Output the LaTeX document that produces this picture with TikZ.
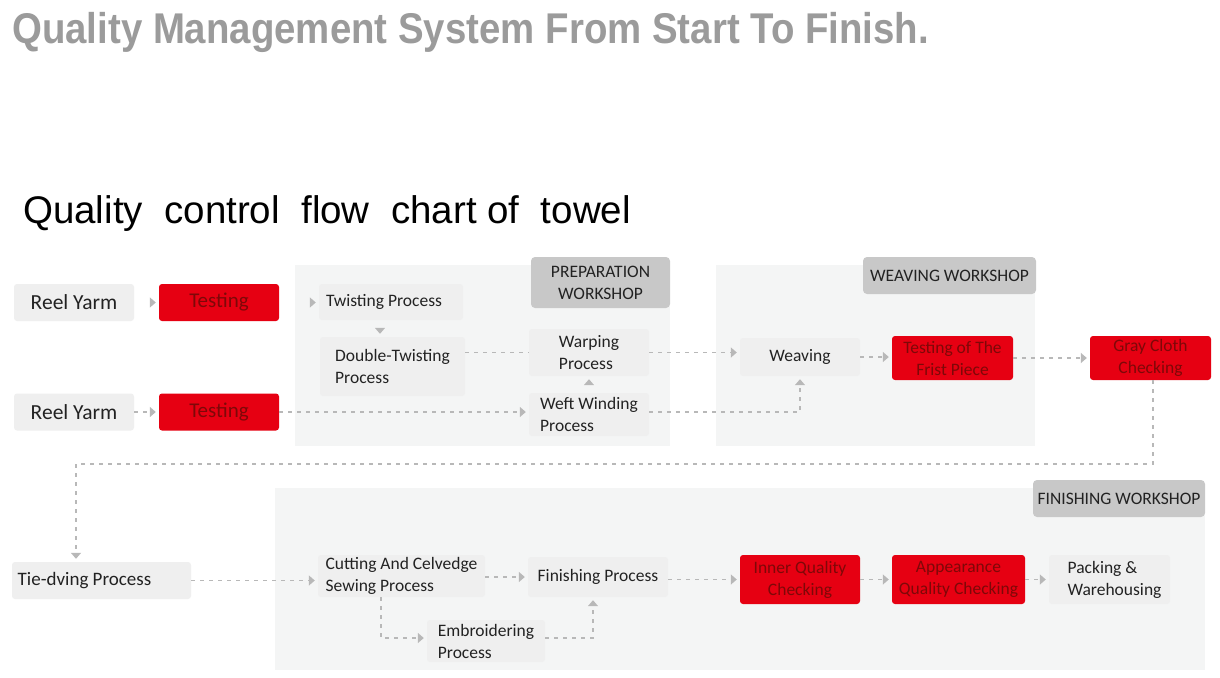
\documentclass[tikz,border=0pt]{standalone}
\usepackage{fontspec}
\setmainfont{Carlito}
\newfontfamily\titlefont{Liberation Sans}
\usetikzlibrary{arrows.meta,calc}
\definecolor{redbox}{HTML}{E60012}
\definecolor{redtext}{HTML}{7E0808}
\definecolor{lightbox}{HTML}{EFEFEF}
\definecolor{panel}{HTML}{F4F5F5}
\definecolor{labelbox}{HTML}{C8C8C8}
\definecolor{conn}{HTML}{B8B8B8}
\definecolor{titlegray}{HTML}{9B9B9B}
\definecolor{ink}{HTML}{222222}
\tikzset{
  procbox/.style={fill=lightbox, rounded corners=3pt, inner sep=0pt, text=ink,
    font=\fontsize{17.5}{22}\selectfont, align=left},
  bigbox/.style={procbox, font=\fontsize{21.5}{24}\selectfont},
  checkbox/.style={fill=redbox, rounded corners=3pt, inner sep=0pt, text=redtext,
    font=\fontsize{17.5}{22}\selectfont, align=center},
  wslabel/.style={fill=labelbox, rounded corners=4pt, inner sep=0pt, text=ink,
    font=\fontsize{17.5}{22}\selectfont, align=center},
  panelbg/.style={fill=panel, draw=none},
  flow/.style={draw=conn, line width=1.3pt, dash pattern=on 4pt off 5pt,
    -{Triangle[width=10pt,length=6pt,fill=conn]}, shorten >=3pt},
  flownotip/.style={draw=conn, line width=1.3pt, dash pattern=on 4pt off 5pt},
  tiponly/.style={draw=conn, line width=1.3pt, dash pattern=on 0pt off 300pt,
    -{Triangle[width=10pt,length=6pt,fill=conn]}, shorten >=3pt},
}
\begin{document}
\begin{tikzpicture}[x=1pt,y=-1pt]
\useasboundingbox (0,0) rectangle (1220,677);
\fill[white] (0,0) rectangle (1220,677);

% titles
\node[anchor=base west, inner sep=0pt, text=titlegray,
  font=\titlefont\bfseries\fontsize{43}{46}\selectfont] (title) at (12,44)
  {\scalebox{0.893}[1]{Quality Management System From Start To Finish.}};
\node[anchor=base west, inner sep=0pt, text=black,
  font=\titlefont\fontsize{38.5}{42}\selectfont] (subtitle) at (23,223)
  {Quality\ \ control\ \ flow\ \ chart of\ \ towel};

% workshop panels
\fill[panelbg] (295,265) rectangle (670,446);
\fill[panelbg] (716,265) rectangle (1035,446);
\fill[panelbg] (275,488) rectangle (1205,670);

\node[wslabel, minimum width=139pt, minimum height=51pt] (prepl) at (600.5,282.5) {PREPARATION\\WORKSHOP};
\node[wslabel, minimum width=173pt, minimum height=37pt] (weavl) at (949.5,275.5) {WEAVING WORKSHOP};
\node[wslabel, minimum width=172pt, minimum height=37pt] (finl) at (1119,498.5) {FINISHING WORKSHOP};

% row 1 & 2
\node[bigbox, minimum width=120pt, minimum height=37pt] (r1) at (74,302.5) {Reel Yarm};
\node[checkbox, minimum width=120pt, minimum height=37pt, font=\fontsize{21}{24}\selectfont] (t1) at (219,302.5) {Testing};
\node[bigbox, minimum width=120pt, minimum height=37pt] (r2) at (74,412) {Reel Yarm};
\node[checkbox, minimum width=120pt, minimum height=37pt, font=\fontsize{21}{24}\selectfont] (t2) at (219,412) {Testing};

\node[procbox, minimum width=144pt, minimum height=36pt] (tw) at (391,302) {Twisting Process\hspace*{14pt}};
\node[procbox, minimum width=145pt, minimum height=59pt] (dt) at (392.5,366.5) {Double-Twisting\\Process};
\node[procbox, minimum width=120pt, minimum height=47pt] (wp) at (589,352.5) {Warping\\Process};
\node[procbox, minimum width=120pt, minimum height=43pt] (ww) at (589,414.5) {Weft Winding\\Process};

\node[procbox, minimum width=120pt, minimum height=38pt] (wv) at (800,357) {Weaving};
\node[checkbox, minimum width=121pt, minimum height=44pt] (tf) at (952.5,358) {Testing of The\\Frist Piece};
\node[checkbox, minimum width=121pt, minimum height=44pt] (gc) at (1150.5,358) {Gray Cloth\\Checking};

% bottom row
\node[procbox, minimum width=179pt, minimum height=37pt, font=\fontsize{19}{23}\selectfont] (td) at (101.5,580.5) {Tie-dving Process\hspace*{34pt}};
\node[procbox, minimum width=167pt, minimum height=42pt] (cs) at (401.5,576) {Cutting And Celvedge\\Sewing Process\hspace*{0pt}};
\node[procbox, minimum width=140pt, minimum height=40pt] (fp) at (598,577) {Finishing Process};
\node[procbox, minimum width=118pt, minimum height=42pt] (em) at (486,641) {Embroidering\\Process};
\node[checkbox, minimum width=120pt, minimum height=49pt] (iq) at (800,579.5) {Inner Quality\\Checking};
\node[checkbox, minimum width=133pt, minimum height=49pt] (ap) at (958.5,579.5) {Appearance\\Quality Checking};
\node[procbox, minimum width=121pt, minimum height=49pt] (pk) at (1109.5,579.5) {\hspace*{10pt}Packing \&\\\hspace*{10pt}Warehousing};

% connectors
\draw[tiponly] (r1.east) -- (t1.west);
\draw[tiponly] (t1.east) -- (t1.east -| tw.west);
\draw[tiponly] ([xshift=-11pt]tw.south) -- ([xshift=-11pt]tw.south |- dt.north);
\draw[flow] (r2.east) -- (t2.west);
\draw[flow] (t2.east) -- (ww.west |- t2.east);
\draw[flownotip] (dt.east |- wp.east) -- (wp.west);
\draw[tiponly] (ww.north) -- (wp.south);
\draw[flow] (wp.east) -- (wp.east -| wv.west);
\draw[flow] (ww.east |- t2.east) -| (wv.south);
\draw[flow] (wv.east) -- (wv.east -| tf.west);
\draw[flow] (tf.east) -- (gc.west);

\coordinate (c1) at (1153,464);
\coordinate (c2) at (76,464);
\draw[flow] ([xshift=2.5pt]gc.south) -- (c1) -- (c2) -- (c2 |- td.north);

\draw[flow] (td.east) -- (td.east -| cs.west);
\draw[flow] (cs.east |- fp.west) -- (fp.west);
\coordinate (c3) at (381,638);
\draw[flow] ([xshift=-20.5pt]cs.south) -- (c3) -- (c3 -| em.west);
\coordinate (c4) at (593,638);
\draw[flow] (em.east |- c4) -- (c4) -- (c4 |- fp.south);
\draw[flow] (fp.east |- iq.west) -- (iq.west);
\draw[flow] (iq.east) -- (ap.west);
\draw[flow] (ap.east) -- (pk.west);
\end{tikzpicture}
\end{document}
